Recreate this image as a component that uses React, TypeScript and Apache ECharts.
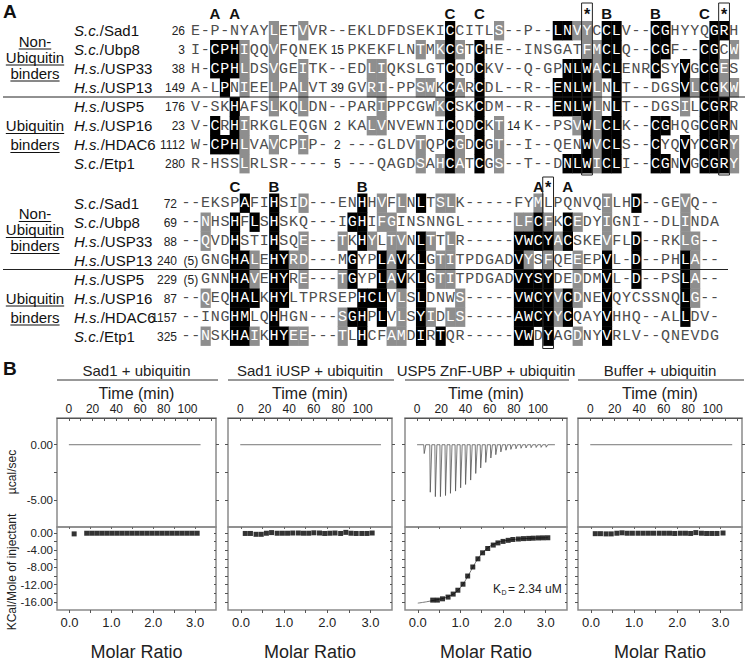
import React, { useEffect, useRef } from "react";
import * as echarts from "echarts";

const SANS = 'Arial, "Liberation Sans", Helvetica, sans-serif';
const MONO = '"Liberation Mono", "DejaVu Sans Mono", "Courier New", monospace';

// ================= Panel A data =================
const speciesNames = [
  ["S.c.", "/Sad1"], ["S.c.", "/Ubp8"], ["H.s.", "/USP33"], ["H.s.", "/USP13"],
  ["H.s.", "/USP5"], ["H.s.", "/USP16"], ["H.s.", "/HDAC6"], ["S.c.", "/Etp1"],
];
const topStarts = ["26", "3", "38", "149", "176", "23", "1112", "280"];
const topSeqs = [
  "E-P-NYAYLETVVR--EKLDFDSEKICCITLS--P--LNVYCCLV--CGHYYQGRH",
  "I-CPHIQQVFQNEK  PKEKFLNTMKCGTCHE--INSGATFMCLQ--CGF--CGCW",
  "H-CPHLDSVGEITK--EDLIQKSLGTCQDCKV--Q-GPNLWACLENRCSYVGCGES",
  "A-LPNIEELPALVT  GVRI-PPSWKCARCDL--R--ENLWLNLT--DGSVLCGKW",
  "V-SKHAFSLKQLDN--PARIPPCGWKCSKCDM--R--ENLWLNLT--DGSILCGRR",
  "V-CRHIRKGLEQGN  KALVNVEWNICQDCKT  K--PSVWLCLK--CGHQGCGRN",
  "W-CPHLVAVCPIP-  ---GLDVTQPCGDCGT--I--QENWVCLS--CYQVYCGRY",
  "R-HSSLRLSR----  ---QAGDSAHCATCGS--T--DNLWICLI--CGNVGCGRY",
];
const topBlack = [
  [26, 37, 38, 42, 43, 47, 48, 53, 54],
  [2, 3, 4, 26, 29, 42, 43, 47, 48, 52, 53],
  [2, 3, 4, 26, 29, 38, 39, 40, 42, 43, 47, 50, 52, 53],
  [3, 26, 29, 37, 38, 39, 40, 43, 50, 52, 53],
  [4, 26, 29, 37, 38, 39, 40, 43, 52, 53, 54],
  [2, 4, 26, 29, 40, 42, 43, 47, 48, 52, 53, 54],
  [2, 3, 4, 26, 29, 40, 42, 43, 47, 50, 52, 53, 54],
  [26, 29, 38, 39, 40, 42, 43, 47, 48, 50, 52, 53, 54],
];
const topGray = [
  [8, 11, 31, 39, 40],
  [5, 8, 23, 25, 27, 40, 41, 55],
  [5, 8, 11, 18, 19, 41, 54],
  [5, 8, 11, 18, 19, 23, 24, 27, 41, 51, 54, 55],
  [8, 11, 19, 25, 41, 50],
  [5, 18, 19, 31, 39, 41],
  [5, 8, 11, 23, 27, 31, 41, 55],
  [5, 23, 25, 27, 31, 41, 55],
];
const topInserts = [
  { row: 1, col: 15, text: "15" }, { row: 3, col: 15, text: "39" },
  { row: 5, col: 15, text: "2" }, { row: 5, col: 33, text: "14" },
  { row: 6, col: 15, text: "2" }, { row: 7, col: 15, text: "5" },
];
const topMarks = [
  { col: 2, text: "A" }, { col: 4, text: "A" }, { col: 26, text: "C" }, { col: 29, text: "C" },
  { col: 40, text: "*", box: true }, { col: 42, text: "B" }, { col: 47, text: "B" },
  { col: 52, text: "C" }, { col: 54, text: "*", box: true },
];

const botStarts = ["72", "69", "88", "240", "229", "87", "1157", "325"];
const botSeqs = [
  "--EKSPAFIHSID---ENHHVFLNLTSLK-----FYMLPQNVQILHD--GEVQ--",
  "--NHSHFLSHSKQ---IGHIFGINSNNGL-----LFCFKCEDYIGNI--DLINDA",
  "--QVDHSTIHSQE---TKHYLTVNLTTLR-----VWCYACSKEVFLD--RKLG--",
  "  GNGHALEHYRD---MGYPLAVKLGTITPDGADVYSFQEEEPVL-D--PHLA--",
  "  GNNHAVEHYRE---TGYPLAVKLGTITPDGADVYSYDEDDMVL-D--PSLA--",
  "--QEQHALKHYLTPRSEPHCLVLSLDNWS-----VWCYVCDNEVQYCSSNQLG--",
  "--INGHMLQHHGN---SGHPLVLSYIDLS-----AWCYYCQAYVHHQ--ALLDV-",
  "--NSKHAIKHYEE---TLHCFAMDIRTQR-----VWDYAGDNYVRLV--QNEVDG",
];
const botBlack = [
  [6, 9, 18, 24, 46],
  [5, 7, 9, 17, 18, 36, 39],
  [5, 9, 18, 24, 34, 35, 36, 37, 39, 46],
  [5, 6, 9, 10, 17, 20, 22, 24, 34, 43, 46, 51],
  [5, 6, 9, 10, 17, 20, 22, 24, 34, 35, 36, 37, 43, 46, 51],
  [5, 6, 7, 9, 10, 18, 19, 20, 24, 34, 35, 36, 37, 39, 43, 51],
  [5, 6, 9, 17, 18, 20, 24, 34, 35, 36, 37, 39, 43, 51],
  [5, 6, 9, 10, 18, 24, 26, 34, 35, 37, 43],
];
const botGray = [
  [12, 20, 22, 26, 27, 36, 43, 51],
  [2, 20, 21, 34, 35, 37, 40, 43, 51],
  [2, 12, 16, 19, 21, 22, 25, 27, 38, 43, 51, 52],
  [7, 11, 12, 21, 26, 27, 35, 37, 40, 52],
  [7, 12, 16, 21, 26, 27, 40, 52],
  [2, 22, 28, 38, 40, 52],
  [16, 22, 25, 27, 28, 38],
  [2, 7, 11, 12, 16, 21, 22, 40],
];
const botInserts = [
  { row: 3, col: 1, text: "(5)" }, { row: 4, col: 1, text: "(5)" },
];
const botMarks = [
  { col: 5, text: "C" }, { col: 9, text: "B" }, { col: 18, text: "B" },
  { col: 36, text: "A" }, { col: 37, text: "*", box: true }, { col: 39, text: "A" },
];

// ================= Panel B data =================
const panelTitles = ["Sad1 + ubiquitin", "Sad1 iUSP + ubiquitin", "USP5 ZnF-UBP + ubiquitin", "Buffer + ubiquitin"];
const timeTicks = [0, 10, 20, 30, 40, 50, 60, 70, 80, 90, 100, 110, 120];
const timeLabels = [0, 20, 40, 60, 80, 100];
const powerTicks = [0, -2.5, -5];
const powerLabels = [0, -5];
const heatTicks = [0, -2, -4, -6, -8, -10, -12, -14, -16];
const heatLabels = [0, -4, -8, -12, -16];
const ratioTicks = [0, 0.5, 1, 1.5, 2, 2.5, 3];
const ratioLabels = [0, 1, 2, 3];

const baselineEnds = [111, 115, 114, 116];
const injTimes3 = [5.5, 10.5, 14.7, 18.9, 23.1, 27.2, 31.4, 35.6, 39.7, 43.9, 48.1, 52.2, 56.4,
  60.6, 64.7, 68.9, 73.1, 77.2, 81.4, 85.6, 89.7, 93.9, 98.1, 102.2, 106.4];
const injPeaks3 = [-0.8, -4.3, -4.7, -4.7, -4.6, -4.4, -4.2, -3.9, -3.6, -3.2, -2.6, -2.1, -1.6,
  -1.2, -0.9, -0.65, -0.5, -0.42, -0.36, -0.32, -0.29, -0.27, -0.25, -0.24, -0.23];

const ratio1 = [0.11, 0.41, 0.53, 0.65, 0.77, 0.89, 1.01, 1.13, 1.25, 1.37, 1.49, 1.61, 1.73, 1.85,
  1.97, 2.09, 2.21, 2.33, 2.45, 2.57, 2.69, 2.81, 2.93, 3.05];
const heat1 = [-0.2, -0.05, -0.05, -0.05, -0.05, -0.05, -0.05, -0.05, -0.05, -0.05, -0.05, -0.05,
  -0.05, -0.05, -0.05, -0.05, -0.05, -0.05, -0.05, -0.05, -0.05, -0.05, -0.05, -0.05];
const ratio2 = [0.10, 0.22, 0.35, 0.47, 0.59, 0.71, 0.84, 0.96, 1.08, 1.20, 1.33, 1.45, 1.57, 1.69,
  1.82, 1.94, 2.06, 2.18, 2.31, 2.43, 2.55, 2.67, 2.80, 2.92, 3.04];
const heat2 = [-0.1, -0.1, -0.3, -0.3, -0.05, 0.1, -0.05, -0.05, -0.05, 0.0, 0.0, -0.05, -0.05, 0.05,
  0.0, -0.1, -0.05, 0.0, -0.1, 0.15, -0.05, -0.1, -0.1, -0.1, 0.0];
const ratio3 = [0.35, 0.46, 0.58, 0.71, 0.83, 0.94, 1.06, 1.17, 1.29, 1.41, 1.52, 1.64, 1.77, 1.88,
  2.0, 2.12, 2.23, 2.36, 2.48, 2.6, 2.71, 2.83, 2.94, 3.05];
const heat3 = [-15.6, -15.6, -15.3, -14.9, -14.2, -13.3, -11.9, -10.0, -7.9, -6.0, -4.6, -3.6, -2.8,
  -2.3, -1.95, -1.7, -1.5, -1.4, -1.3, -1.25, -1.2, -1.15, -1.12, -1.1];
const fitRatio3 = [0.0, 0.2, 0.4, 0.6, 0.8, 0.9, 1.0, 1.1, 1.2, 1.3, 1.4, 1.5, 1.6, 1.7, 1.8, 1.9, 2.0,
  2.2, 2.4, 2.6, 2.8, 3.05];
const fitHeat3 = [-16.3, -16.0, -15.6, -15.2, -14.4, -13.7, -12.7, -11.3, -9.6, -7.8, -6.1, -4.8, -3.8,
  -3.0, -2.5, -2.1, -1.85, -1.55, -1.37, -1.25, -1.17, -1.1];
const ratio4 = [0.10, 0.22, 0.35, 0.47, 0.60, 0.72, 0.84, 0.96, 1.09, 1.21, 1.33, 1.45, 1.58, 1.70,
  1.82, 1.94, 2.07, 2.19, 2.31, 2.43, 2.56, 2.68, 2.80, 2.92, 3.06];
const heat4 = [-0.15, -0.15, -0.2, -0.2, -0.05, 0.05, -0.05, -0.05, -0.05, -0.05, -0.05, -0.05, -0.05,
  -0.05, -0.05, -0.1, -0.05, -0.05, -0.1, 0.1, -0.05, -0.1, -0.1, -0.1, 0.0];
const kdText = "2.34 uM";

// ================= helpers =================
function measure(text: string, font: string): number {
  const c = document.createElement("canvas").getContext("2d");
  if (!c) return text.length * 8;
  c.font = font;
  return c.measureText(text).width;
}

function txt(x: number, y: number, text: string, font: string, align = "left", extra: any = {}) {
  return {
    type: "text", x, y, z: 20, silent: true, ...extra,
    style: {
      text, font, fill: extra.fill || "#111",
      align, verticalAlign: "middle", textAlign: align, textVerticalAlign: "middle",
    },
  };
}
function ln(x1: number, y1: number, x2: number, y2: number, stroke = "#222", w = 1) {
  return { type: "line", z: 20, silent: true, shape: { x1, y1, x2, y2 }, style: { stroke, lineWidth: w } };
}

function alignmentSeries(axisIdx: number, seqs: string[], black: number[][], gray: number[][], ncols: number) {
  const data: number[][] = [];
  seqs.forEach((s, r) => {
    for (let c = 0; c < ncols; c++) {
      const sh = black[r].includes(c) ? 1 : gray[r].includes(c) ? 2 : 0;
      data.push([c, r, sh]);
    }
  });
  return {
    type: "custom",
    xAxisIndex: axisIdx,
    yAxisIndex: axisIdx,
    silent: true,
    data,
    renderItem: (_p: any, api: any) => {
      const c = api.value(0), r = api.value(1), sh = api.value(2);
      const p0 = api.coord([c, r]);
      const p1 = api.coord([c + 1, r + 1]);
      const ch = seqs[r][c];
      const children: any[] = [];
      if (sh) {
        children.push({
          type: "rect",
          shape: { x: p0[0], y: p0[1], width: p1[0] - p0[0] + 0.4, height: p1[1] - p0[1] + 0.4 },
          style: { fill: sh === 1 ? "#000" : "#8e8e8e" },
        });
      }
      if (ch && ch !== " ") {
        children.push({
          type: "text",
          x: (p0[0] + p1[0]) / 2,
          y: (p0[1] + p1[1]) / 2 + 0.5,
          style: {
            text: ch, fill: sh ? "#fff" : "#4d4d4d", font: `15px ${MONO}`,
            align: "center", verticalAlign: "middle", textAlign: "center", textVerticalAlign: "middle",
          },
        });
      }
      return { type: "group", children };
    },
  };
}

function buildOption() {
  // ---- Panel A layout ----
  const CW = 9.79;
  const RH = 19;
  const TOP_L = 190.5, TOP_T = 21;
  const BOT_L = 181, BOT_T = 193.5;
  const NT = 56, NB = 55;

  const grid: any[] = [
    { left: TOP_L, top: TOP_T, width: NT * CW, height: 8 * RH },
    { left: BOT_L, top: BOT_T, width: NB * CW, height: 8 * RH },
  ];
  const xAxis: any[] = [
    { gridIndex: 0, type: "value", min: 0, max: NT, show: false },
    { gridIndex: 1, type: "value", min: 0, max: NB, show: false },
  ];
  const yAxis: any[] = [
    { gridIndex: 0, type: "value", min: 0, max: 8, inverse: true, show: false },
    { gridIndex: 1, type: "value", min: 0, max: 8, inverse: true, show: false },
  ];
  const series: any[] = [
    alignmentSeries(0, topSeqs, topBlack, topGray, NT),
    alignmentSeries(1, botSeqs, botBlack, botGray, NB),
  ];
  const graphic: any[] = [];

  graphic.push(txt(3, 11, "A", `bold 19px ${SANS}`));
  graphic.push(txt(3, 368, "B", `bold 19px ${SANS}`));

  const blocks = [
    { L: TOP_L, T: TOP_T, marks: topMarks, markY: 13, boxTop: 3, boxBot: TOP_T + 8 * RH + 2, starts: topStarts, numX: 185, inserts: topInserts, lineEnd: 745 },
    { L: BOT_L, T: BOT_T, marks: botMarks, markY: 186, boxTop: 177, boxBot: BOT_T + 8 * RH + 3, starts: botStarts, numX: 177, inserts: botInserts, lineEnd: 728 },
  ];
  const grpFont = `15px ${SANS}`;
  blocks.forEach((b) => {
    const rowY = (r: number) => b.T + (r + 0.5) * RH;
    b.marks.forEach((m: any) => {
      const cx = b.L + (m.col + 0.5) * CW;
      if (m.box) {
        graphic.push({
          type: "rect", z: 30, silent: true,
          shape: { x: b.L + m.col * CW - 0.5, y: b.boxTop, width: CW + 1, height: b.boxBot - b.boxTop },
          style: { fill: "none", stroke: "#222", lineWidth: 1 },
        });
        graphic.push(txt(cx, b.markY + 1, "*", `bold 16px ${SANS}`, "center"));
      } else {
        graphic.push(txt(cx, b.markY, m.text, `bold 15px ${SANS}`, "center"));
      }
    });
    speciesNames.forEach((nm, r) => {
      graphic.push({
        type: "text", x: 74, y: rowY(r), z: 20, silent: true,
        style: {
          text: `{i|${nm[0]}}{n|${nm[1]}}`,
          rich: {
            i: { font: `italic 15px ${SANS}`, fill: "#111" },
            n: { font: `15px ${SANS}`, fill: "#111" },
          },
          align: "left", verticalAlign: "middle", textAlign: "left", textVerticalAlign: "middle",
        },
      });
    });
    b.starts.forEach((s, r) => graphic.push(txt(b.numX, rowY(r) + 0.5, s, `12px ${SANS}`, "right", { fill: "#222" })));
    b.inserts.forEach((ins) => graphic.push(txt(b.L + ins.col * CW, rowY(ins.row) + 0.5, ins.text, `12px ${SANS}`, "center", { fill: "#222" })));
    // separator
    const sepY = b.T + 4 * RH;
    graphic.push(ln(3, sepY, b.lineEnd, sepY, "#222", 1));
    // group labels
    const mid = b.T + 2 * RH - 2;
    const groups = [
      { text: "Non-", y: mid - 16 },
      { text: "Ubiquitin", y: mid },
      { text: "binders", y: mid + 16 },
      { text: "Ubiquitin", y: rowY(5) },
      { text: "binders", y: rowY(6) },
    ];
    groups.forEach((g) => {
      const w = measure(g.text, grpFont);
      graphic.push(txt(35, g.y, g.text, grpFont, "center"));
      graphic.push(ln(35 - w / 2, g.y + 8, 35 + w / 2, g.y + 8, "#111", 1));
    });
  });

  // ---- Panel B ----
  const lefts = [57, 228, 405, 578];
  const widths = [159, 164, 162, 164];
  const UP_T = 418, UP_H = 109, LO_T = 527, LO_H = 83;
  const axisTxt = { fontSize: 12, color: "#222", fontFamily: SANS };
  const yTxt = { fontSize: 11.5, color: "#222", fontFamily: SANS };
  const scatterSets = [[ratio1, heat1], [ratio2, heat2], [ratio3, heat3], [ratio4, heat4]];

  for (let p = 0; p < 4; p++) {
    const L = lefts[p], W = widths[p];
    const gu = grid.length;
    grid.push({ left: L, top: UP_T, width: W, height: UP_H, show: true, borderColor: "#8a8a8a", borderWidth: 1.5, backgroundColor: "transparent" });
    const gl = grid.length;
    grid.push({ left: L, top: LO_T, width: W, height: LO_H, show: true, borderColor: "#8a8a8a", borderWidth: 1.5, backgroundColor: "transparent" });

    const xTime = xAxis.length;
    xAxis.push({
      gridIndex: gu, type: "value", position: "top", min: -10, max: 124,
      axisLine: { show: true, onZero: false, lineStyle: { color: "#555", width: 1 } },
      axisTick: { show: true, inside: true, length: 3, customValues: timeTicks, lineStyle: { color: "#555" } },
      axisLabel: { show: true, customValues: timeLabels, margin: 3, ...axisTxt },
      splitLine: { show: false },
    });
    const xRatio = xAxis.length;
    xAxis.push({
      gridIndex: gl, type: "value", position: "bottom", min: -0.3, max: 3.5,
      axisLine: { show: false, onZero: false },
      axisTick: { show: true, length: 3, customValues: ratioTicks, lineStyle: { color: "#555" } },
      axisLabel: { show: true, customValues: ratioLabels, margin: 6, formatter: (v: number) => v.toFixed(1), fontSize: 13, color: "#222", fontFamily: SANS },
      splitLine: { show: false },
    });
    xAxis.push({
      gridIndex: gl, type: "value", position: "top", min: -0.3, max: 3.5,
      axisLine: { show: false, onZero: false },
      axisTick: { show: true, inside: true, length: 2, customValues: ratioTicks, lineStyle: { color: "#666" } },
      axisLabel: { show: false }, splitLine: { show: false },
    });

    const yPow = yAxis.length;
    yAxis.push({
      gridIndex: gu, type: "value", position: "left", min: -7.45, max: 2.42,
      axisLine: { show: false, onZero: false },
      axisTick: { show: true, length: 3, customValues: powerTicks, lineStyle: { color: "#555" } },
      axisLabel: { show: p === 0, customValues: powerLabels, margin: 4, formatter: (v: number) => v.toFixed(2), ...yTxt },
      splitLine: { show: false },
    });
    yAxis.push({
      gridIndex: gu, type: "value", position: "right", min: -7.45, max: 2.42,
      axisLine: { show: false, onZero: false },
      axisTick: { show: true, length: 3, customValues: powerTicks, lineStyle: { color: "#555" } },
      axisLabel: { show: false }, splitLine: { show: false },
    });
    const yHeat = yAxis.length;
    yAxis.push({
      gridIndex: gl, type: "value", position: "left", min: -17.9, max: 1.4,
      axisLine: { show: false, onZero: false },
      axisTick: { show: true, length: 3, customValues: heatTicks, lineStyle: { color: "#555" } },
      axisLabel: { show: p === 0, customValues: heatLabels, margin: 4, formatter: (v: number) => v.toFixed(2), ...yTxt },
      splitLine: { show: false },
    });
    yAxis.push({
      gridIndex: gl, type: "value", position: "right", min: -17.9, max: 1.4,
      axisLine: { show: false, onZero: false },
      axisTick: { show: true, inside: true, length: 2, customValues: heatTicks, lineStyle: { color: "#555" } },
      axisLabel: { show: false }, splitLine: { show: false },
    });

    // thermogram
    let thermo: number[][];
    if (p === 2) {
      thermo = [[0, 0]];
      injTimes3.forEach((t, i) => {
        thermo.push([t, 0], [t + 0.4, injPeaks3[i]], [t + 1.7, 0]);
      });
      thermo.push([baselineEnds[p], 0]);
    } else {
      thermo = [[0, 0], [baselineEnds[p], 0]];
    }
    series.push({
      type: "line", xAxisIndex: xTime, yAxisIndex: yPow, data: thermo, showSymbol: false, silent: true,
      lineStyle: { color: p === 2 ? "#555" : "#777", width: p === 2 ? 0.8 : 1 },
    });
    if (p === 2) {
      series.push({
        type: "line", xAxisIndex: xRatio, yAxisIndex: yHeat,
        data: fitRatio3.map((x, i) => [x, fitHeat3[i]]), smooth: 0.3, showSymbol: false, silent: true,
        lineStyle: { color: "#777", width: 1 }, z: 2,
      });
    }
    const [xs, ys] = scatterSets[p];
    series.push({
      type: "scatter", xAxisIndex: xRatio, yAxisIndex: yHeat, silent: true, z: 3,
      data: xs.map((x, i) => [x, ys[i]]), symbol: "rect", symbolSize: 5, itemStyle: { color: "#000" },
    });

    // titles & axis names
    const cx = L + W / 2;
    graphic.push(txt(cx, 370, panelTitles[p], `15px ${SANS}`, "center", { fill: "#222" }));
    graphic.push(ln(L, 380, L + W + 2, 380, "#333", 1));
    graphic.push(txt(cx, 393, "Time (min)", `16px ${SANS}`, "center", { fill: "#222" }));
    graphic.push(txt(cx, 652, "Molar Ratio", `18px ${SANS}`, "center", { fill: "#222" }));
  }

  graphic.push(txt(12, 472, "\u00b5cal/sec", `12px ${SANS}`, "center", { rotation: Math.PI / 2, fill: "#222" }));
  graphic.push(txt(12, 572, "KCal/Mole of injectant", `12px ${SANS}`, "center", { rotation: Math.PI / 2, fill: "#222" }));
  // K_D annotation
  graphic.push(txt(493, 589, "K", `12px ${SANS}`, "left", { fill: "#222" }));
  graphic.push(txt(501.5, 592, "D", `7px ${SANS}`, "left", { fill: "#222" }));
  graphic.push(txt(508, 589, "= " + kdText, `12px ${SANS}`, "left", { fill: "#222" }));

  return {
    animation: false,
    backgroundColor: "#fff",
    grid, xAxis, yAxis, series, graphic,
  };
}

export default function App() {
  const ref = useRef<HTMLDivElement>(null);
  useEffect(() => {
    if (!ref.current) return;
    const chart = echarts.init(ref.current, undefined, { renderer: "svg" });
    chart.setOption(buildOption() as any);
    return () => chart.dispose();
  }, []);
  return (
    <div
      ref={ref}
      style={{ position: "absolute", left: 0, top: 0, width: 750, height: 669, background: "#fff" }}
    />
  );
}
